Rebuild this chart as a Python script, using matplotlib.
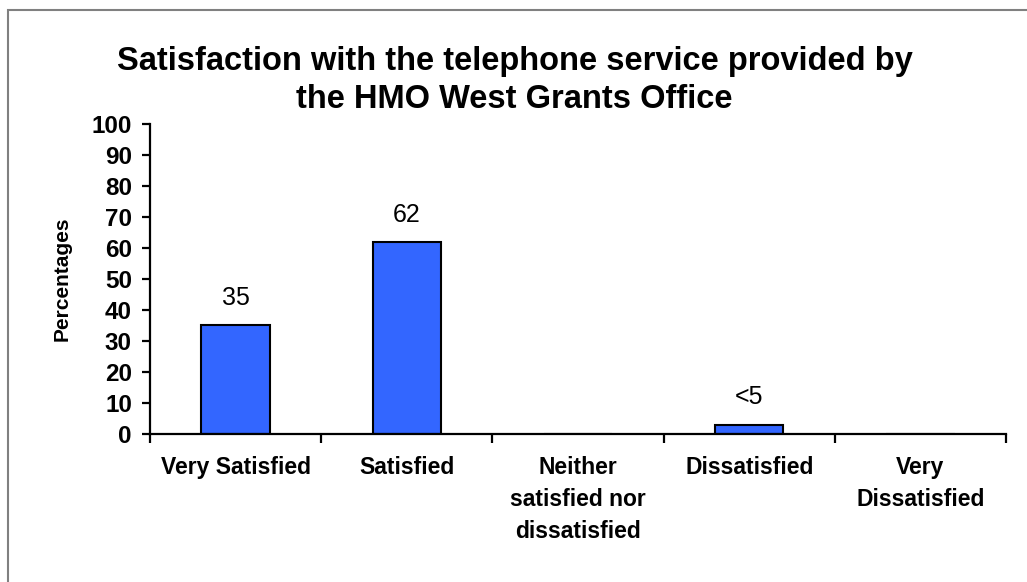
import numpy as np
import matplotlib.pyplot as plt
from matplotlib.patches import Rectangle

plt.rcParams['font.family'] = ['Liberation Sans', 'DejaVu Sans']

categories = ['Very Satisfied', 'Satisfied', 'Neither\nsatisfied nor\ndissatisfied',
              'Dissatisfied', 'Very\nDissatisfied']
values = [35, 62, 0, 3, 0]
labels = ['35', '62', '', '<5', '']

fig = plt.figure(figsize=(10.27, 5.82), dpi=100)
ax = fig.add_axes([0.146, 0.2543, 0.8336, 0.5327])

# grey frame round the chart area
fig.patches.append(Rectangle((0.0078, -0.1), 1.1, 1.0828, transform=fig.transFigure,
                             fill=False, edgecolor='#808080', linewidth=1.5))

x = np.arange(len(categories))
bars = ax.bar(x, values, width=0.4, color='#3366FF', edgecolor='black', linewidth=1.5)

for b, lab in zip(bars, labels):
    if lab:
        ax.annotate(lab, (b.get_x() + b.get_width() / 2, b.get_height()),
                    xytext=(0, 11), textcoords='offset points',
                    ha='center', va='bottom', fontsize=18)

ax.set_xlim(-0.5, len(categories) - 0.5)
ax.set_ylim(0, 100)
ax.set_yticks(range(0, 101, 10))
ax.set_xticks(np.arange(len(categories) + 1) - 0.5)
ax.set_xticklabels([])
ax.set_xticks(x, minor=True)
ax.set_xticklabels(categories, minor=True, fontsize=16.5, fontweight='bold', linespacing=1.5)
ax.tick_params(axis='x', which='minor', length=0, pad=16)
ax.tick_params(axis='x', which='major', length=6.5, width=1.6, direction='out')
ax.tick_params(axis='y', length=6, width=1.6, direction='out', labelsize=17.5, pad=7)
for t in ax.get_yticklabels():
    t.set_fontweight('bold')

for s in ['top', 'right']:
    ax.spines[s].set_visible(False)
for s in ['left', 'bottom']:
    ax.spines[s].set_linewidth(1.6)

ax.set_ylabel('Percentages', fontsize=15, fontweight='bold', labelpad=14)
fig.text(0.501, 0.862, 'Satisfaction with the telephone service provided by\nthe HMO West Grants Office',
         ha='center', va='center', fontsize=23.5, fontweight='bold', linespacing=1.3)

plt.savefig('out.png')
